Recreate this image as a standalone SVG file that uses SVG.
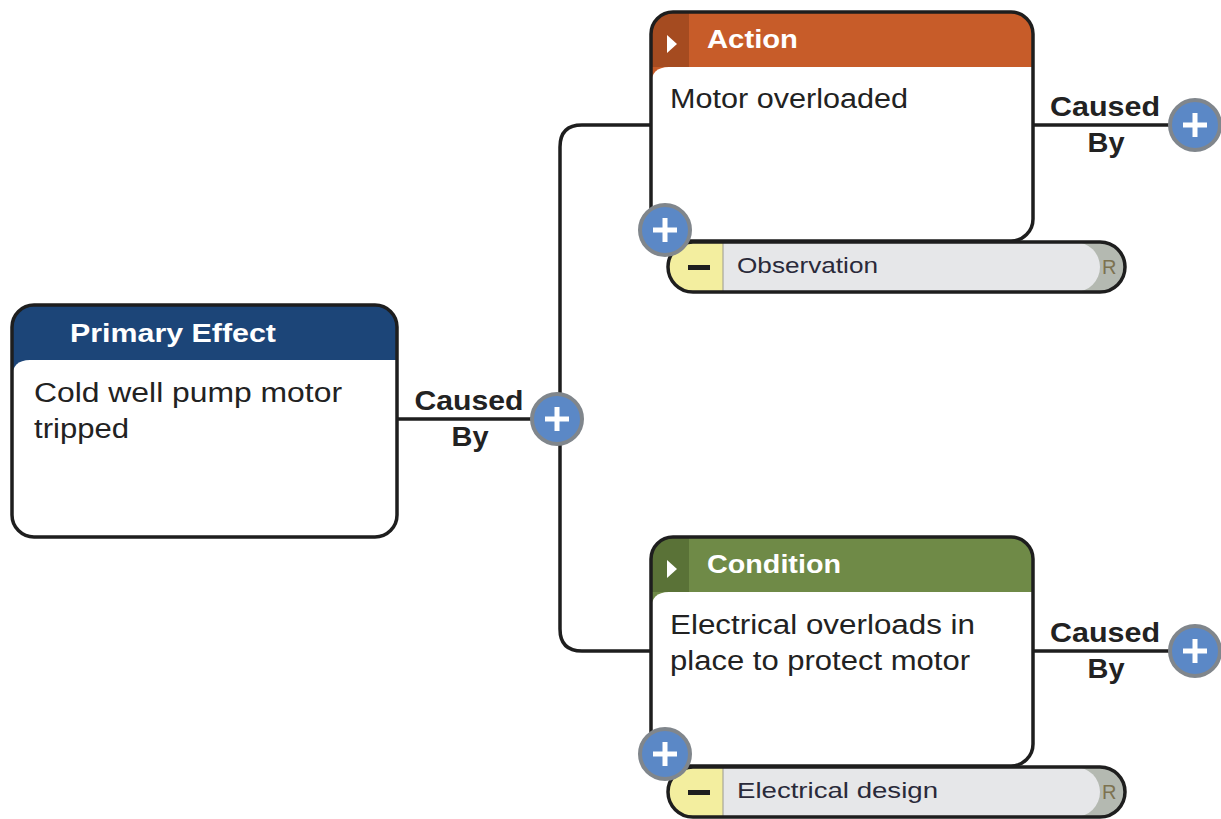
<svg xmlns="http://www.w3.org/2000/svg" width="1221" height="819" viewBox="0 0 1221 819">
<style>
.frame{fill:none;stroke:#1e1e1e;stroke-width:3.5}
.body{fill:#fff}
.hdr{font-family:"Liberation Sans",Arial,sans-serif;font-weight:bold;font-size:26px;fill:#fff}
.txt{font-family:"Liberation Sans",Arial,sans-serif;font-size:27px;fill:#222}
.lbl{font-family:"Liberation Sans",Arial,sans-serif;font-weight:bold;font-size:27px;fill:#222;text-anchor:middle}
.pilltxt{font-family:"Liberation Sans",Arial,sans-serif;font-size:22px;fill:#2a2a3a}
.rtxt{font-family:"Liberation Sans",Arial,sans-serif;font-size:20px;fill:#7d7250}
.conn{fill:none;stroke:#1e1e1e;stroke-width:3.5}
.btn circle{fill:#5b88c6;stroke:#80868c;stroke-width:4}
.btn path{stroke:#fff;stroke-width:5;fill:none}
.tri{fill:#fff}
</style>
<defs>
<clipPath id="cPE"><rect x="12" y="305" width="385" height="232" rx="22"/></clipPath>
<clipPath id="cA"><rect x="651" y="12" width="382" height="229" rx="22"/></clipPath>
<clipPath id="cC"><rect x="651" y="537" width="382" height="229" rx="22"/></clipPath>
<clipPath id="cP1"><rect x="668" y="242" width="457" height="50" rx="25"/></clipPath>
<clipPath id="cP2"><rect x="668" y="767" width="457" height="50" rx="25"/></clipPath>
</defs>

<g id="connectors">
<path class="conn" d="M397 419 H533"/>
<path class="conn" d="M651 125 H582 Q560 125 560 147 V629 Q560 651 582 651 H651"/>
<path class="conn" d="M1033 125 H1172"/>
<path class="conn" d="M1033 651 H1172"/>
<text class="lbl" x="469" y="410" textLength="109" lengthAdjust="spacingAndGlyphs">Caused</text>
<text class="lbl" x="470" y="446" textLength="37" lengthAdjust="spacingAndGlyphs">By</text>
<text class="lbl" x="1105" y="116" textLength="110" lengthAdjust="spacingAndGlyphs">Caused</text>
<text class="lbl" x="1106" y="152" textLength="37" lengthAdjust="spacingAndGlyphs">By</text>
<text class="lbl" x="1105" y="642" textLength="110" lengthAdjust="spacingAndGlyphs">Caused</text>
<text class="lbl" x="1106" y="678" textLength="37" lengthAdjust="spacingAndGlyphs">By</text>
</g>

<g id="primary-effect">
<g clip-path="url(#cPE)">
<rect x="12" y="305" width="385" height="232" fill="#1c4578"/>
<path class="body" d="M12 378 Q12 360 30 360 H397 V537 H12 Z"/>
</g>
<rect class="frame" x="12" y="305" width="385" height="232" rx="22"/>
<text class="hdr" x="70" y="342" textLength="206" lengthAdjust="spacingAndGlyphs">Primary Effect</text>
<text class="txt" x="34" y="402" textLength="308" lengthAdjust="spacingAndGlyphs">Cold well pump motor</text>
<text class="txt" x="34" y="438" textLength="95" lengthAdjust="spacingAndGlyphs">tripped</text>
</g>

<g id="action">
<g clip-path="url(#cA)">
<rect x="651" y="12" width="382" height="229" fill="#c75c29"/>
<rect x="651" y="12" width="38" height="55" fill="#a54b20"/>
<path class="body" d="M651 85 Q651 67 669 67 H1033 V241 H651 Z"/>
</g>
<rect class="frame" x="651" y="12" width="382" height="229" rx="22"/>
<polygon class="tri" points="667,35 677,44 667,53"/>
<text class="hdr" x="707" y="48" textLength="91" lengthAdjust="spacingAndGlyphs">Action</text>
<text class="txt" x="670" y="108" textLength="238" lengthAdjust="spacingAndGlyphs">Motor overloaded</text>
</g>

<g id="observation">
<g clip-path="url(#cP1)">
<rect x="668" y="242" width="457" height="50" fill="#b4b9b1"/>
<rect x="668" y="242" width="432" height="50" rx="25" fill="#e6e7e9"/>
<rect x="668" y="242" width="55" height="50" fill="#f3ee9f"/>
<path d="M723 242 V292" stroke="#9a9a90" stroke-width="1"/>
</g>
<rect class="frame" x="668" y="242" width="457" height="50" rx="25"/>
<rect x="688" y="265" width="22" height="5" fill="#1e1e1e"/>
<text class="pilltxt" x="737" y="273" textLength="141" lengthAdjust="spacingAndGlyphs">Observation</text>
<text class="rtxt" x="1102" y="274">R</text>
</g>
<g id="action-add" class="btn">
<circle cx="665" cy="230" r="25"/>
<path d="M653 230 H677 M665 218 V242"/>
</g>

<g id="condition">
<g clip-path="url(#cC)">
<rect x="651" y="537" width="382" height="229" fill="#6f8a47"/>
<rect x="651" y="537" width="38" height="55" fill="#5a7237"/>
<path class="body" d="M651 610 Q651 592 669 592 H1033 V766 H651 Z"/>
</g>
<rect class="frame" x="651" y="537" width="382" height="229" rx="22"/>
<polygon class="tri" points="667,560 677,569 667,578"/>
<text class="hdr" x="707" y="573" textLength="134" lengthAdjust="spacingAndGlyphs">Condition</text>
<text class="txt" x="670" y="634" textLength="305" lengthAdjust="spacingAndGlyphs">Electrical overloads in</text>
<text class="txt" x="670" y="670" textLength="300" lengthAdjust="spacingAndGlyphs">place to protect motor</text>
</g>

<g id="electrical-design">
<g clip-path="url(#cP2)">
<rect x="668" y="767" width="457" height="50" fill="#b4b9b1"/>
<rect x="668" y="767" width="432" height="50" rx="25" fill="#e6e7e9"/>
<rect x="668" y="767" width="55" height="50" fill="#f3ee9f"/>
<path d="M723 767 V817" stroke="#9a9a90" stroke-width="1"/>
</g>
<rect class="frame" x="668" y="767" width="457" height="50" rx="25"/>
<rect x="688" y="790" width="22" height="5" fill="#1e1e1e"/>
<text class="pilltxt" x="737" y="798" textLength="201" lengthAdjust="spacingAndGlyphs">Electrical design</text>
<text class="rtxt" x="1102" y="799">R</text>
</g>
<g id="condition-add" class="btn">
<circle cx="665" cy="754" r="25"/>
<path d="M653 754 H677 M665 742 V766"/>
</g>

<g id="primary-caused-by" class="btn">
<circle cx="557" cy="419" r="25"/>
<path d="M545 419 H569 M557 407 V431"/>
</g>
<g id="action-caused-by" class="btn">
<circle cx="1195" cy="125" r="25"/>
<path d="M1183 125 H1207 M1195 113 V137"/>
</g>
<g id="condition-caused-by" class="btn">
<circle cx="1195" cy="651" r="25"/>
<path d="M1183 651 H1207 M1195 639 V663"/>
</g>
</svg>
